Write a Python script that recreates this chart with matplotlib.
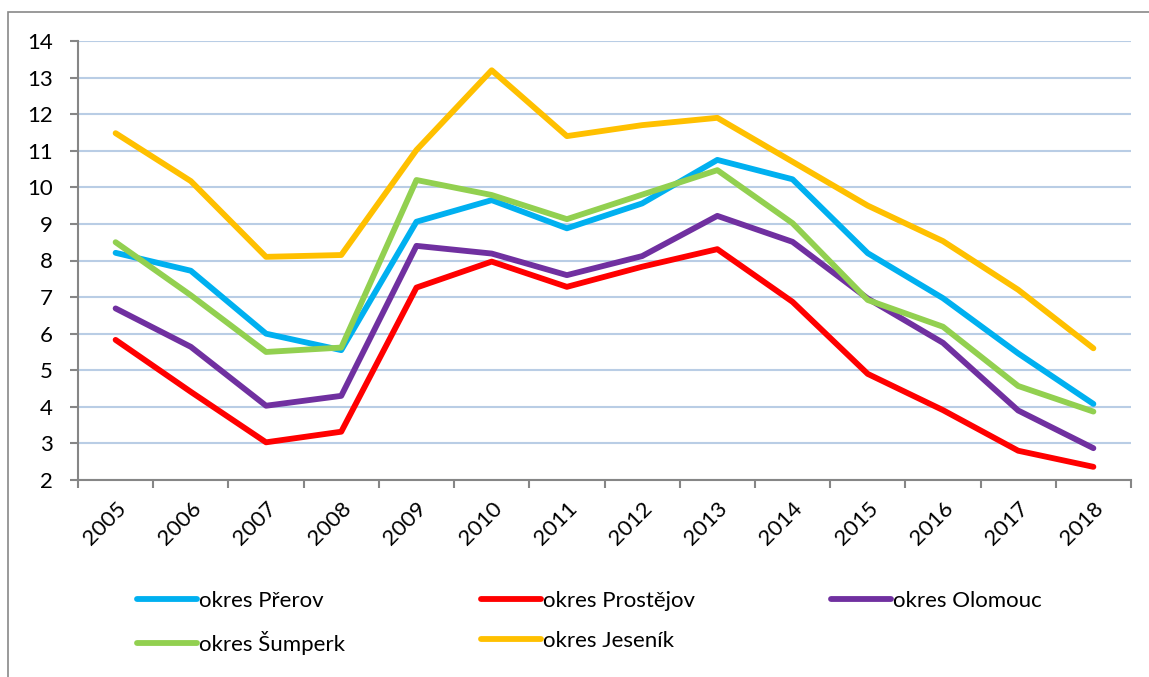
import matplotlib
matplotlib.use('Agg')
import matplotlib.pyplot as plt
from matplotlib.patches import Rectangle

plt.rcParams['font.family'] = ['Lato', 'DejaVu Sans']

years = ['2005', '2006', '2007', '2008', '2009', '2010', '2011',
         '2012', '2013', '2014', '2015', '2016', '2017', '2018']

prerov = [8.21, 7.72, 6.0, 5.55, 9.06, 9.65, 8.88, 9.56, 10.75, 10.22, 8.2, 6.97, 5.46, 4.08]
prostejov = [5.83, 4.41, 3.03, 3.32, 7.26, 7.97, 7.28, 7.83, 8.31, 6.87, 4.9, 3.91, 2.8, 2.36]
olomouc = [6.69, 5.64, 4.03, 4.3, 8.4, 8.19, 7.6, 8.12, 9.22, 8.51, 6.96, 5.75, 3.9, 2.87]
sumperk = [8.5, 7.05, 5.5, 5.62, 10.2, 9.79, 9.13, 9.8, 10.47, 9.02, 6.92, 6.19, 4.57, 3.87]
jesenik = [11.48, 10.17, 8.1, 8.15, 11.02, 13.2, 11.4, 11.7, 11.9, 10.7, 9.5, 8.53, 7.2, 5.6]

names = ['okres Přerov', 'okres Prostějov', 'okres Olomouc', 'okres Šumperk', 'okres Jeseník']
colors = ['#00b0f0', '#ff0000', '#7030a0', '#92d050', '#ffc000']
series = [prerov, prostejov, olomouc, sumperk, jesenik]

fig = plt.figure(figsize=(11.49, 6.77), dpi=100)
ax = fig.add_axes([78/1149, 1 - 480/677, (1131-78)/1149, (480-41)/677])

x = list(range(len(years)))
handles = []
for vals, name, c in zip(series, names, colors):
    h, = ax.plot(x, vals, color=c, lw=4.2, label=name, solid_capstyle='round',
                 solid_joinstyle='round', zorder=3)
    handles.append(h)

ax.set_xlim(-0.5, len(years) - 0.5)
ax.set_ylim(2, 14)
ax.set_yticks(range(2, 15))

# tick marks between categories, labels at category centres
ax.set_xticks([i - 0.5 for i in range(len(years) + 1)])
ax.set_xticklabels([])
ax.set_xticks(x, minor=True)
ax.set_xticklabels(years, minor=True, rotation=45, ha='right', va='top',
                   rotation_mode='anchor', fontsize=16)
ax.tick_params(axis='x', which='minor', length=0, pad=13)
ax.tick_params(axis='x', which='major', length=6, width=1.5, color='#868686', direction='out')
ax.tick_params(axis='y', length=6, width=1.5, color='#868686', labelsize=16, pad=12)

ax.grid(axis='y', color='#b9cde5', lw=1.5, zorder=0)
for s in ['top', 'right']:
    ax.spines[s].set_visible(False)
for s in ['left', 'bottom']:
    ax.spines[s].set_color('#868686')
    ax.spines[s].set_linewidth(1.5)

# row-major legend order
order = [0, 3, 1, 4, 2]
fig.legend([handles[i] for i in order], [names[i] for i in order],
           ncol=3, loc='upper left', bbox_to_anchor=(137/1149, 1 - 591/677),
           frameon=False, fontsize=16, handlelength=2.7, handletextpad=0.1,
           columnspacing=6.1, labelspacing=0.9, borderpad=0, borderaxespad=0)

fig.patches.append(Rectangle((8/1149, -0.1), 1.2, 1 - 12/677 + 0.1,
                             transform=fig.transFigure, fill=False,
                             edgecolor='#898989', lw=1.2))

fig.savefig('out.png', dpi=100)
